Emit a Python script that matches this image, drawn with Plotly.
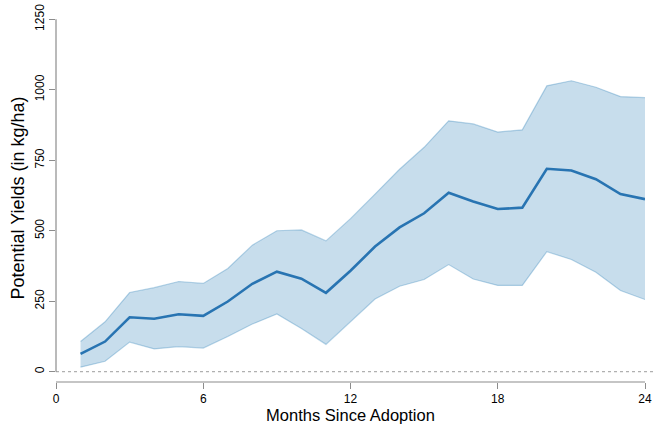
import plotly.graph_objects as go

months = list(range(1, 25))
mean_yield = [63, 107, 193, 188, 204, 198, 249, 312, 355, 330, 280, 358,
              444, 512, 562, 635, 604, 577, 582, 720, 714, 683, 630, 612]
upper_yield = [107, 177, 281, 298, 320, 313, 366, 449, 500, 503, 464, 543,
               630, 718, 796, 890, 879, 850, 858, 1014, 1032, 1009, 976, 972]
lower_yield = [16, 37, 105, 81, 89, 84, 125, 169, 205, 153, 97, 176,
               258, 303, 327, 380, 329, 306, 306, 426, 398, 353, 288, 256]

x_ticks = [0, 6, 12, 18, 24]
y_ticks = [0, 250, 500, 750, 1000, 1250]

FONT = "Liberation Sans, Arial, sans-serif"
AXIS_GREY = "#8c8c8c"

fig = go.Figure()
fig.add_trace(go.Scatter(
    x=months, y=upper_yield, mode="lines",
    line=dict(color="rgba(31,119,180,0.30)", width=1.2),
    hoverinfo="skip", showlegend=False))
fig.add_trace(go.Scatter(
    x=months, y=lower_yield, mode="lines", fill="tonexty",
    fillcolor="rgba(31,119,180,0.25)",
    line=dict(color="rgba(31,119,180,0.30)", width=1.2),
    hoverinfo="skip", showlegend=False))
fig.add_trace(go.Scatter(
    x=months, y=mean_yield, mode="lines",
    line=dict(color="#2874b2", width=2.6),
    showlegend=False))

# zero reference line (dashed)
fig.add_shape(type="line", xref="paper", yref="y", x0=0, x1=1.02, y0=0, y1=0,
              line=dict(color="#b0b0b0", width=1.3, dash="3px,3px"), layer="below")
# detached axis lines (R style)
fig.add_shape(type="line", xref="paper", yref="y", x0=0, x1=0, y0=0, y1=1250,
              line=dict(color=AXIS_GREY, width=1.2))
fig.add_shape(type="line", xref="x", yref="paper", x0=0, x1=24, y0=0, y1=0,
              line=dict(color=AXIS_GREY, width=1.2))

fig.update_layout(
    width=656, height=430,
    margin=dict(l=56, r=11, t=14, b=48),
    paper_bgcolor="white", plot_bgcolor="white",
    font=dict(family=FONT, color="black", size=12),
    xaxis=dict(
        range=[0, 24], tickvals=x_ticks, ticktext=[str(v) for v in x_ticks],
        showgrid=False, zeroline=False, showline=False, automargin=False,
        ticks="outside", ticklen=6, tickwidth=1.2, tickcolor=AXIS_GREY,
        tickfont=dict(size=12, color="black"),
        title=dict(text="Months Since Adoption", font=dict(size=16.5), standoff=4),
    ),
    yaxis=dict(
        range=[-36.5, 1268.9], tickvals=y_ticks, ticktext=[str(v) for v in y_ticks],
        showgrid=False, zeroline=False, showline=False, automargin=False,
        ticks="outside", ticklen=6, tickwidth=1.2, tickcolor=AXIS_GREY,
        tickangle=-90, tickfont=dict(size=12, color="black"),
        title=dict(text="Potential Yields (in kg/ha)", font=dict(size=18), standoff=3),
    ),
)

fig.write_html(
    "out.html",
    config={"displayModeBar": False},
    post_script="document.body.style.margin='0';document.body.style.overflow='hidden';",
)
